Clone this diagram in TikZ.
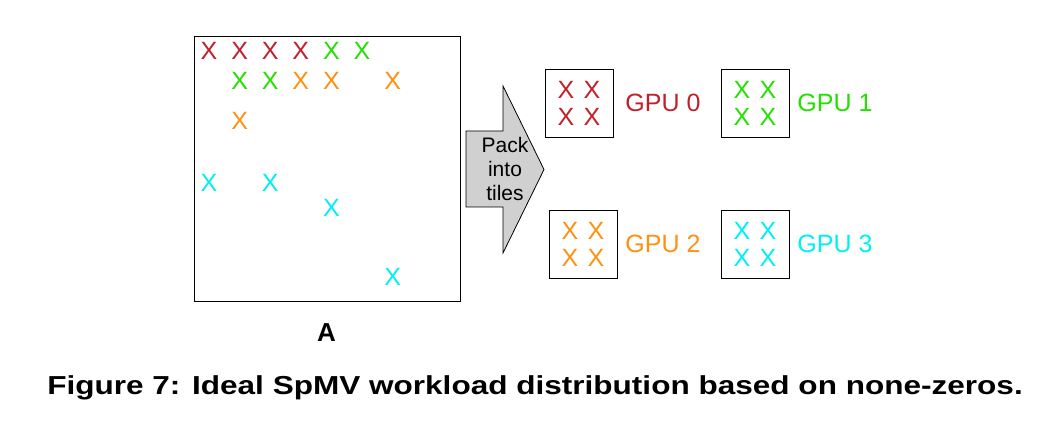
\documentclass[tikz,border=0pt]{standalone}
\usepackage{fontspec}
\setmainfont{Liberation Sans}
\usetikzlibrary{calc}
\definecolor{gpured}{HTML}{C0202A}
\definecolor{gpugreen}{HTML}{22E000}
\definecolor{gpuorange}{HTML}{FF9010}
\definecolor{gpucyan}{HTML}{00F0F0}
\definecolor{packgray}{HTML}{D0D0D0}
\tikzset{
  nz/.style={font=\fontsize{12.5}{14}\selectfont},
  tile/.style={draw, minimum size=34pt},
  gpulabel/.style={anchor=west, font=\fontsize{12.5}{14}\selectfont}
}
\begin{document}
\begin{tikzpicture}[x=0.5pt,y=-0.5pt]
  \tikzstyle{every node}+=[inner sep=0pt]
  \useasboundingbox (0,0) rectangle (1054,438);
  % sparse matrix A
  \node [draw, minimum width=133pt, minimum height=132.5pt] (matA) at (327,168.5) {};
  \foreach \c/\r/\col in {0/51/gpured, 1/51/gpured, 2/51/gpured, 3/51/gpured,
      4/51/gpugreen, 5/51/gpugreen,
      1/81/gpugreen, 2/81/gpugreen, 3/81/gpuorange, 4/81/gpuorange, 6/81/gpuorange,
      1/121/gpuorange,
      0/183/gpucyan, 2/183/gpucyan, 4/208/gpucyan, 6/277/gpucyan}
    \node [nz, text=\col] at ({209+30.6*\c},\r) {X};
  \node [font=\fontsize{13}{15}\selectfont\bfseries] (labA) at (326.5,332.5) {A};
  % pack arrow
  \draw [fill=packgray] (466,131) -- (503,131) -- (503,86) -- (544,169.5)
    -- (503,253) -- (503,207) -- (466,207) -- cycle;
  \node [align=center, font=\fontsize{10.5}{12}\selectfont] (pack) at (505,169) {Pack\\into\\tiles};
  % tiles
  \foreach \n/\x/\y/\lx/\col in {0/579/103/625/gpured, 1/755/103/797/gpugreen,
      2/583/244/625/gpuorange, 3/755/244/797/gpucyan} {
    \node [tile] (tile\n) at (\x,\y) {};
    \foreach \dx in {-13,13}
      \foreach \dy in {-13.5,13.5}
        \node [nz, text=\col] at ($(tile\n.center)+(\dx,\dy)$) {X};
    \node [gpulabel, text=\col] (gpu\n) at (\lx,\y) {GPU \n};
  }
  % caption
  \node [font=\fontsize{13}{15}\selectfont\bfseries] (caption) at (535,388)
    {\scalebox{1.213}[1]{Figure 7: Ideal SpMV workload distribution based on none-zeros.}};
\end{tikzpicture}
\end{document}
